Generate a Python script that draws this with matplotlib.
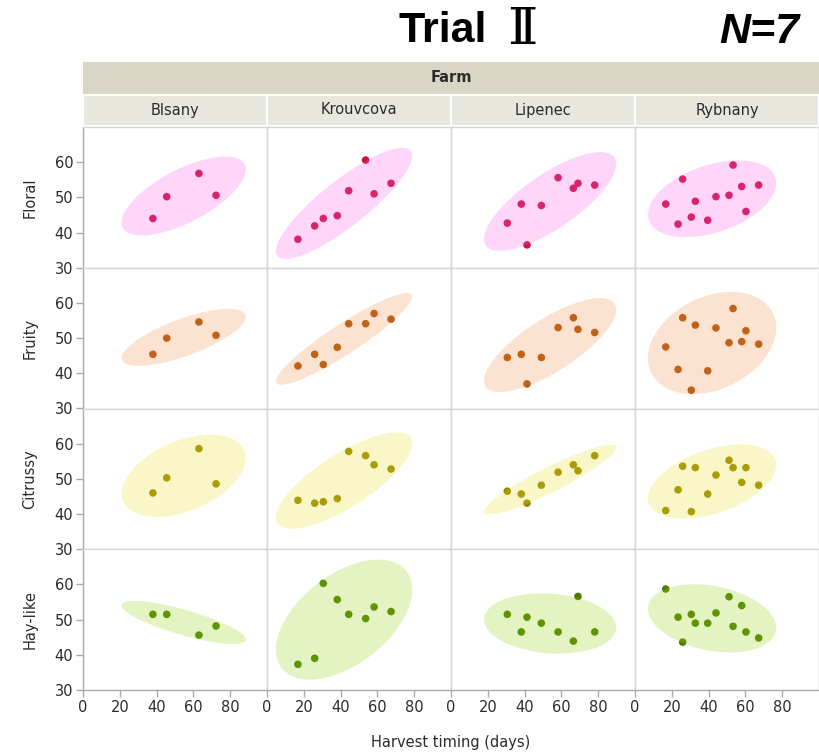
import numpy as np
import matplotlib
matplotlib.use("Agg")
import matplotlib.pyplot as plt
from matplotlib.patches import Ellipse, Rectangle

# Facet layout
farms = ["Blsany", "Krouvcova", "Lipenec", "Rybnany"]
attributes = ["Floral", "Fruity", "Citrussy", "Hay-like"]

# Harvest timing (days) per sample, by farm
days_blsany = [38.0, 45.5, 63.0, 72.3]
days_krouvcova = [16.8, 25.9, 30.6, 38.2, 44.4, 53.6, 58.2, 67.4]
days_lipenec = [30.6, 38.2, 41.3, 49.1, 58.2, 66.5, 69.0, 78.1]
days_rybnany = [16.7, 23.4, 25.9, 30.6, 32.8, 39.5, 44.0, 51.1, 53.3, 58.0, 60.3, 67.2]

# Sensory scores
floral_blsany = [44.0, 50.2, 56.8, 50.6]
floral_krouvcova = [38.1, 41.9, 44.0, 44.8, 51.9, 60.6, 51.0, 54.0]
floral_lipenec = [42.7, 48.1, 36.5, 47.7, 55.6, 52.6, 54.0, 53.5]
floral_rybnany = [48.1, 42.4, 55.2, 44.4, 48.9, 43.5, 50.2, 50.6, 59.2, 53.1, 46.0, 53.5]

fruity_blsany = [45.4, 50.0, 54.6, 50.8]
fruity_krouvcova = [42.1, 45.4, 42.5, 47.4, 54.1, 54.1, 57.0, 55.4]
fruity_lipenec = [44.5, 45.4, 37.0, 44.5, 53.0, 55.8, 52.5, 51.6]
fruity_rybnany = [47.5, 41.1, 55.8, 35.2, 53.7, 40.7, 52.9, 48.7, 58.4, 49.0, 52.1, 48.3]

citrussy_blsany = [46.0, 50.3, 58.6, 48.6]
citrussy_krouvcova = [43.9, 43.1, 43.5, 44.4, 57.8, 56.6, 54.0, 52.8]
citrussy_lipenec = [46.5, 45.7, 43.1, 48.2, 51.9, 54.0, 52.3, 56.6]
citrussy_rybnany = [41.0, 46.9, 53.6, 40.7, 53.2, 45.7, 51.1, 55.3, 53.2, 49.0, 53.2, 48.2]

hay_blsany = [51.5, 51.5, 45.6, 48.2]
hay_krouvcova = [37.3, 39.0, 60.3, 55.7, 51.5, 50.3, 53.6, 52.3]
hay_lipenec = [51.5, 46.5, 50.7, 49.0, 46.5, 43.9, 56.6, 46.5]
hay_rybnany = [58.7, 50.7, 43.6, 51.5, 49.0, 49.0, 51.9, 56.5, 48.1, 54.0, 46.5, 44.8]

x_ticks = [0, 20, 40, 60, 80]
y_ticks = [30, 40, 50, 60]

days = [days_blsany, days_krouvcova, days_lipenec, days_rybnany]
scores = [
    [floral_blsany, floral_krouvcova, floral_lipenec, floral_rybnany],
    [fruity_blsany, fruity_krouvcova, fruity_lipenec, fruity_rybnany],
    [citrussy_blsany, citrussy_krouvcova, citrussy_lipenec, citrussy_rybnany],
    [hay_blsany, hay_krouvcova, hay_lipenec, hay_rybnany],
]

point_colors = ["#CC1240", "#AE5206", "#958600", "#4F7D00"]
ellipse_colors = ["#FF5BEB", "#F7934A", "#EBE323", "#93D70F"]
ellipse_alpha = 0.25
coverage = 0.90  # density ellipse coverage
radius = np.sqrt(-2.0 * np.log(1.0 - coverage))

W, H = 819, 753
fig = plt.figure(figsize=(W / 100, H / 100), dpi=100)

left_px, right_px = 83, 819
top_px, bottom_px = 127, 690
fig_left = left_px / W
fig_right = right_px / W
fig_top = 1 - top_px / H
fig_bottom = 1 - bottom_px / H

gs = fig.add_gridspec(4, 4, left=fig_left, right=fig_right, top=fig_top,
                      bottom=fig_bottom, wspace=0, hspace=0)

grid_color = "#D6D6D6"
axis_color = "#A9A9A9"
text_color = "#2B2B2B"
font = "DejaVu Sans"

for r in range(4):
    for c in range(4):
        ax = fig.add_subplot(gs[r, c])
        x = np.asarray(days[c], dtype=float)
        y = np.asarray(scores[r][c], dtype=float)

        ax.scatter(x, y, s=30, color=point_colors[r], edgecolors="none", zorder=2)

        # Bivariate density ellipse from the sample mean and covariance
        cov = np.cov(x, y)
        vals, vecs = np.linalg.eigh(cov)
        order = vals.argsort()[::-1]
        vals, vecs = vals[order], vecs[:, order]
        angle = np.degrees(np.arctan2(vecs[1, 0], vecs[0, 0]))
        ell = Ellipse((x.mean(), y.mean()),
                      width=2 * radius * np.sqrt(vals[0]),
                      height=2 * radius * np.sqrt(vals[1]),
                      angle=angle, facecolor=ellipse_colors[r],
                      edgecolor="none", alpha=ellipse_alpha, zorder=3)
        ax.add_patch(ell)

        ax.set_xlim(0, 100)
        ax.set_ylim(30, 70)
        ax.set_xticks(x_ticks)
        ax.set_yticks(y_ticks)
        for s in ax.spines.values():
            s.set_color(grid_color)
            s.set_linewidth(1.0)
        ax.tick_params(length=5, width=1, color=axis_color, labelsize=10.5,
                       labelcolor=text_color, pad=2)
        if c == 0:
            ax.spines["left"].set_color(axis_color)
        else:
            ax.tick_params(axis="y", left=False, labelleft=False)
        if r == 3:
            ax.spines["bottom"].set_color(axis_color)
        else:
            ax.tick_params(axis="x", bottom=False, labelbottom=False)
        for lab in ax.get_xticklabels() + ax.get_yticklabels():
            lab.set_family(font)

# Facet header strips
def px_rect(x0, y0, x1, y1, color):
    fig.add_artist(Rectangle((x0 / W, 1 - y1 / H), (x1 - x0) / W, (y1 - y0) / H,
                             transform=fig.transFigure, facecolor=color,
                             edgecolor="none", zorder=0))

px_rect(left_px, 62, right_px, 94, "#D9D6C6")
fig.text((left_px + right_px) / 2 / W, 1 - 77 / H, "Farm", ha="center", va="center",
         fontsize=10.5, fontweight="bold", color=text_color, family=font)

col_w = (right_px - left_px) / 4
for c, name in enumerate(farms):
    x0 = left_px + c * col_w
    px_rect(x0 + 1, 96, x0 + col_w - 1, 125, "#E8E7DD")
    fig.text((x0 + col_w / 2) / W, 1 - 110 / H, name, ha="center", va="center",
             fontsize=10.5, color=text_color, family=font)

# Row labels
row_h = (bottom_px - top_px) / 4
for r, name in enumerate(attributes):
    yc = top_px + (r + 0.5) * row_h
    fig.text(30 / W, 1 - yc / H, name, rotation=90, ha="center", va="center",
             fontsize=10.5, color=text_color, family=font)

fig.text((left_px + right_px) / 2 / W, 1 - 742 / H, "Harvest timing (days)",
         ha="center", va="center", fontsize=10.5, color=text_color, family=font)

# Title: "Trial" in bold sans, Roman numeral in a serif face
fig.text(487 / W, 1 - 31 / H, "Trial", ha="right", va="center", fontsize=31,
         fontweight="bold", color="black",
         family=["Liberation Sans Narrow", "Liberation Sans", "DejaVu Sans"])
fig.text(522 / W, 1 - 30 / H, "Ⅱ", ha="center", va="center", fontsize=37,
         fontweight="normal", color="black",
         family=["DejaVu Serif", "Noto Sans CJK JP", "DejaVu Sans"])
fig.text(759 / W, 1 - 32 / H, "N=7", ha="center", va="center", fontsize=31,
         fontweight="bold", fontstyle="italic", color="black",
         family=["Liberation Sans", "DejaVu Sans"])

fig.savefig("out.png", dpi=100, facecolor="white")
